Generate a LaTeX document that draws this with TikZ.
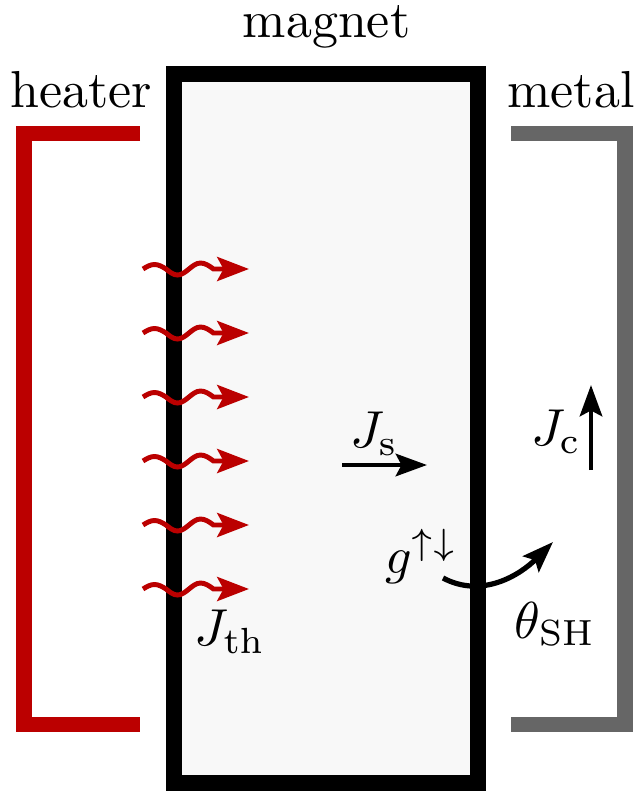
\documentclass[tikz,border=0pt]{standalone}
\usepackage{tikz}
\usetikzlibrary{arrows.meta}
\definecolor{heatred}{RGB}{187,0,0}
\definecolor{metalgray}{RGB}{102,102,102}
\definecolor{magfill}{RGB}{248,248,248}

\begin{document}
\begin{tikzpicture}[x=1.9231pt, y=-1.9231pt,
  lbl/.style={font=\normalsize, inner sep=0pt},
  bracket/.style={line width=2.9pt, line cap=butt, line join=miter},
  wave/.style={-{Stealth[length=6.1pt, width=4.6pt, inset=1.2pt]}, line width=0.95pt, color=heatred},
  arr/.style={-{Stealth[length=6pt, width=4.3pt, inset=1.1pt]}, line width=0.9pt},
]
\useasboundingbox (0,0) rectangle (63.5,79.1);

% ─── Magnet slab (middle) ───
\draw[line width=3.08pt, fill=magfill] (17.4,7.4) rectangle (47.8,78.3);

% ─── Heater (left) and metal (right) brackets ───
\draw[bracket, heatred]   (14.0,13.35) -- (2.4,13.35) -- (2.4,72.45) -- (14.0,72.45);
\draw[bracket, metalgray] (51.1,13.35) -- (62.5,13.35) -- (62.5,72.45) -- (51.1,72.45);

% ─── Titles ───
\node[lbl, anchor=base] (magnetlbl) at (32.65,3.7) {magnet};
\node[lbl, anchor=base] (heaterlbl) at (8.1,10.7)  {heater};
\node[lbl, anchor=base] (metallbl)  at (57.1,10.7) {metal};

% ─── Heat current into the magnet ───
\foreach \yy [count=\i] in {26.9,33.3,39.7,46.1,52.5,58.9} {
  \coordinate (w\i a) at (14.3,\yy);
  \coordinate (w\i b) at (24.9,\yy);
  \draw[wave] (w\i a) sin ++(1.15,-0.45) cos ++(1.15,0.45) sin ++(1.15,0.6) cos ++(1.15,-0.6)
    sin ++(1.15,-0.6) cos ++(1.3,0.6) -- (w\i b);
}
\node[lbl] (jth) at (23.0,63.2) {$J_{\mathrm{th}}$};

% ─── Spin current ───
\coordinate (jsa) at (34.2,46.5);
\coordinate (jsb) at (42.7,46.5);
\draw[arr] (jsa) -- (jsb);
\node[lbl] (js) at (37.4,43.4) {$J_{\mathrm{s}}$};

% ─── Charge current in the metal ───
\coordinate (jca) at (59.1,47.0);
\coordinate (jcb) at (59.1,38.5);
\draw[arr] (jca) -- (jcb);
\node[lbl] (jc) at (55.6,43.2) {$J_{\mathrm{c}}$};

% ─── Interface conversion ───
\node[lbl] (gud) at (42.1,55.6) {$g^{\uparrow\downarrow}$};
\coordinate (ga) at (44.3,57.8);
\coordinate (gb) at (55.3,54.2);
\draw[arr, line width=1pt] (ga) to[out=-28, in=-135] (gb);
\node[lbl] (thsh) at (55.5,62.4) {$\theta_{\mathrm{SH}}$};

\end{tikzpicture}
\end{document}
